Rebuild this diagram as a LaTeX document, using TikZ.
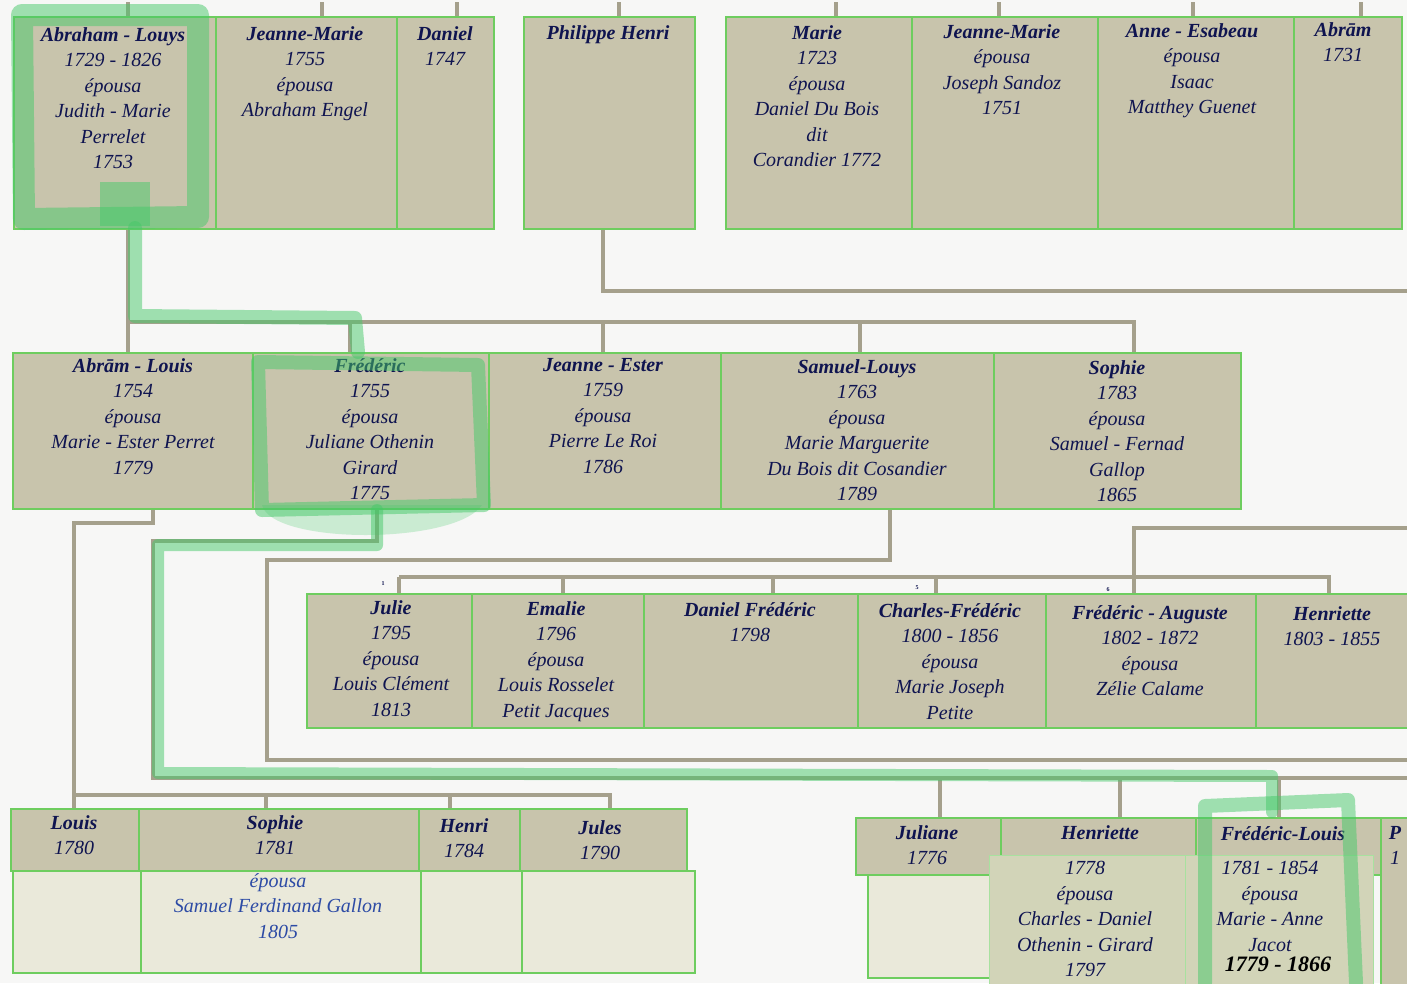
\documentclass[tikz,border=0pt]{standalone}
\usepackage{fontspec}
\setmainfont{Liberation Serif}
\definecolor{paper}{RGB}{247,247,246}
\definecolor{cellfill}{RGB}{200,196,172}
\definecolor{cellgreen}{RGB}{110,205,95}
\definecolor{conngray}{RGB}{165,160,140}
\definecolor{ink}{RGB}{15,20,80}
\definecolor{fadeink}{RGB}{45,75,165}
\definecolor{hlgreen}{RGB}{70,200,105}
\definecolor{lightfill}{RGB}{234,233,218}
\definecolor{overfill}{RGB}{210,212,184}
\tikzset{
  cellbox/.style={draw=cellgreen, line width=2.2pt, fill=cellfill, rectangle, inner sep=0pt},
  lightbox/.style={cellbox, fill=lightfill},
  overbox/.style={draw=cellgreen!60!white, line width=1.2pt, fill=overfill, rectangle, inner sep=0pt},
  conn/.style={draw=conngray, line width=3.5pt},
  hl/.style={draw=hlgreen, line width=14pt, opacity=0.5, line join=round, line cap=round},
  txt/.style={text=ink, font=\fontsize{20}{25.5}\selectfont\itshape, align=center, inner sep=0pt},
  fadetxt/.style={txt, text=fadeink},
  tiny/.style={text=ink, font=\fontsize{6}{6}\selectfont\bfseries, inner sep=0pt},
  hand/.style={text=black, font=\fontsize{22}{22}\selectfont\bfseries\itshape, inner sep=0pt},
}
\newcommand\cellnode[6][cellbox]{\node[#1, anchor=north west, minimum width={(#5-#3)*1pt}, minimum height={(#6-#4)*1pt}] (#2) at (#3,#4) {};}
\newcommand\ctext[5][txt]{\node[#1, anchor=north] (#2) at (#3,#4-7) {#5};}
\begin{document}
\begin{tikzpicture}[x=1pt,y=-1pt]
\useasboundingbox (0,0) rectangle (1407,983);
\fill[paper] (0,0) rectangle (1407,983);
\clip (0,0) rectangle (1407,983);

% ---------- connection points ----------
\coordinate (tA1) at (128,2);  \coordinate (tA2) at (322,2);  \coordinate (tA3) at (457,2);
\coordinate (tP1) at (619,2);  \coordinate (tB1) at (836,2);  \coordinate (tB2) at (999,2);
\coordinate (tB3) at (1193,2); \coordinate (tB4) at (1361,2);
\coordinate (ph1) at (603,291); \coordinate (ph2) at (1412,291);
\coordinate (ab1) at (128,322); \coordinate (ab2) at (1134,322);
\coordinate (s350) at (350,322); \coordinate (s603) at (603,322); \coordinate (s860) at (860,322);
\coordinate (al1) at (153,523); \coordinate (al2) at (74,523); \coordinate (al3) at (74,795); \coordinate (al4) at (610,795);
\coordinate (s266) at (266,795); \coordinate (s450) at (450,795);
\coordinate (fr1) at (377,541); \coordinate (fr2) at (153,541); \coordinate (fr3) at (153,778); \coordinate (fr4) at (1412,778);
\coordinate (s940) at (940,778); \coordinate (s1120) at (1120,778); \coordinate (s1279) at (1279,778);
\coordinate (sa1) at (890,560); \coordinate (sa2) at (267,560); \coordinate (sa3) at (267,760); \coordinate (sa4) at (1412,760);
\coordinate (or1) at (1412,528); \coordinate (or2) at (1134,528); \coordinate (or3) at (1134,577);
\coordinate (ch1) at (399,577); \coordinate (ch2) at (563,577); \coordinate (ch3) at (773,577);
\coordinate (ch4) at (936,577); \coordinate (ch6) at (1329,577);

% ---------- cells ----------
\cellnode{A1}{13}{16}{215}{228} \cellnode{A2}{215}{16}{396}{228} \cellnode{A3}{396}{16}{493}{228}
\cellnode{P1}{523}{16}{694}{228}
\cellnode{B1}{725}{16}{911}{228} \cellnode{B2}{911}{16}{1097}{228} \cellnode{B3}{1097}{16}{1293}{228} \cellnode{B4}{1293}{16}{1401}{228}
\cellnode{C1}{12}{352}{252}{508} \cellnode{C2}{252}{352}{488}{508} \cellnode{C3}{488}{352}{720}{508}
\cellnode{C4}{720}{352}{993}{508} \cellnode{C5}{993}{352}{1240}{508}
\cellnode{D1}{306}{593}{471}{727} \cellnode{D2}{471}{593}{643}{727} \cellnode{D3}{643}{593}{857}{727}
\cellnode{D4}{857}{593}{1045}{727} \cellnode{D5}{1045}{593}{1255}{727} \cellnode{D6}{1255}{593}{1414}{727}
\cellnode[lightbox]{E1l}{12}{870}{140}{972} \cellnode[lightbox]{E2l}{140}{870}{420}{972}
\cellnode[lightbox]{E3l}{420}{870}{521}{972} \cellnode[lightbox]{E4l}{521}{870}{694}{972}
\cellnode{E1}{10}{808}{138}{870} \cellnode{E2}{138}{808}{418}{870} \cellnode{E3}{418}{808}{519}{870} \cellnode{E4}{519}{808}{686}{870}
\cellnode[lightbox]{F1l}{867}{874}{1000}{977}
\cellnode{F1}{855}{817}{1000}{874} \cellnode{F2}{1000}{817}{1195}{874} \cellnode{F3}{1195}{817}{1380}{874}
\cellnode{F4}{1380}{817}{1414}{990}
\cellnode[overbox]{O1}{989}{855}{1185}{990} \cellnode[overbox]{O2}{1185}{855}{1373}{990}

% ---------- connectors ----------
\foreach \c/\n in {tA1/A1,tA2/A2,tA3/A3,tP1/P1,tB1/B1,tB2/B2,tB3/B3,tB4/B4}
  \draw[conn] (\c) -- (\n.north -| \c);
\draw[conn] (P1.south -| ph1) -- (ph1) -- (ph2);
\draw[conn] (A1.south -| ab1) -- (ab1) -- (ab2) -- (C5.north -| ab2);
\draw[conn] (ab1) -- (C1.north -| ab1);
\draw[conn] (s350) -- (C2.north -| s350);
\draw[conn] (s603) -- (C3.north -| s603);
\draw[conn] (s860) -- (C4.north -| s860);
\draw[conn] (C1.south -| al1) -- (al1) -- (al2) -- (al3) -- (al4) -- (E4.north -| al4);
\draw[conn] (al3) -- (E1.north -| al3);
\draw[conn] (s266) -- (E2.north -| s266);
\draw[conn] (s450) -- (E3.north -| s450);
\draw[conn] (C2.south -| fr1) -- (fr1) -- (fr2) -- (fr3) -- (fr4);
\draw[conn] (s940) -- (F1.north -| s940);
\draw[conn] (s1120) -- (F2.north -| s1120);
\draw[conn] (s1279) -- (F3.north -| s1279);
\draw[conn] (C4.south -| sa1) -- (sa1) -- (sa2) -- (sa3) -- (sa4);
\draw[conn] (or1) -- (or2) -- (or3) -- (D5.north -| or3);
\draw[conn] (ch1) -- (ch6) -- (D6.north -| ch6);
\draw[conn] (ch1) -- (D1.north -| ch1);
\draw[conn] (ch2) -- (D2.north -| ch2);
\draw[conn] (ch3) -- (D3.north -| ch3);
\draw[conn] (ch4) -- (D4.north -| ch4);

% ---------- texts row 1 ----------
\ctext{tx1}{113}{34}{{\bfseries Abraham - Louys}\\1729 - 1826\\épousa\\Judith - Marie\\Perrelet\\1753}
\ctext{tx2}{305}{33}{{\bfseries Jeanne-Marie}\\1755\\épousa\\Abraham Engel}
\ctext{tx3}{445}{33}{{\bfseries Daniel}\\1747}
\ctext{tx4}{608}{32}{{\bfseries Philippe Henri}}
\ctext{tx5}{817}{32}{{\bfseries Marie}\\1723\\épousa\\Daniel Du Bois\\dit\\Corandier 1772}
\ctext{tx6}{1002}{31}{{\bfseries Jeanne-Marie}\\épousa\\Joseph Sandoz\\1751}
\ctext{tx7}{1192}{30}{{\bfseries Anne - Esabeau}\\épousa\\Isaac\\Matthey Guenet}
\ctext{tx8}{1343}{29}{{\bfseries Abrām}\\1731}

% ---------- texts row 2 ----------
\ctext{tx9}{133}{365}{{\bfseries Abrām - Louis}\\1754\\épousa\\Marie - Ester Perret\\1779}
\ctext{tx10}{370}{365}{{\bfseries Frédéric}\\1755\\épousa\\Juliane Othenin\\Girard\\1775}
\ctext{tx11}{603}{365}{{\bfseries Jeanne - Ester}\\1759\\épousa\\Pierre Le Roi\\1786}
\ctext{tx12}{857}{366}{{\bfseries Samuel-Louys}\\1763\\épousa\\Marie Marguerite\\Du Bois dit Cosandier\\1789}
\ctext{tx13}{1117}{367}{{\bfseries Sophie}\\1783\\épousa\\Samuel - Fernad\\Gallop\\1865}

% ---------- texts row 3 ----------
\ctext{tx14}{391}{607}{{\bfseries Julie}\\1795\\épousa\\Louis Clément\\1813}
\ctext{tx15}{556}{608}{{\bfseries Emalie}\\1796\\épousa\\Louis Rosselet\\Petit Jacques}
\ctext{tx16}{750}{609}{{\bfseries Daniel Frédéric}\\1798}
\ctext{tx17}{950}{610}{{\bfseries Charles-Frédéric}\\1800 - 1856\\épousa\\Marie Joseph\\Petite}
\ctext{tx18}{1150}{612}{{\bfseries Frédéric - Auguste}\\1802 - 1872\\épousa\\Zélie Calame}
\ctext{tx19}{1332}{613}{{\bfseries Henriette}\\1803 - 1855}
\node[tiny] (n1) at (383,584) {1};
\node[tiny] (n5) at (917,588) {5};
\node[tiny] (n6) at (1108,590) {6};

% ---------- texts row 4 left ----------
\ctext{tx20}{74}{822}{{\bfseries Louis}\\1780}
\ctext{tx21}{275}{822}{{\bfseries Sophie}\\1781}
\ctext{tx22}{464}{825}{{\bfseries Henri}\\1784}
\ctext{tx23}{600}{827}{{\bfseries Jules}\\1790}
\ctext[fadetxt]{tx24}{278}{880}{épousa\\Samuel Ferdinand Gallon\\1805}

% ---------- texts row 4 right ----------
\ctext{tx25}{927}{832}{{\bfseries Juliane}\\1776}
\ctext{tx26}{1100}{832}{{\bfseries Henriette}}
\ctext{tx27}{1283}{833}{{\bfseries Frédéric-Louis}}
\ctext{tx28}{1395}{833}{{\bfseries P}\\1}
\ctext{tx29}{1085}{868}{1778\\épousa\\Charles - Daniel\\Othenin - Girard\\1797}
\ctext{tx30}{1270}{868}{1781 - 1854\\épousa\\Marie - Anne\\Jacot}
\node[hand] (hw) at (1278,964) {1779 - 1866};

% ---------- green highlighter ----------
\draw[hl, line width=22pt] (22,15) -- (198,15) -- (198,217) -- (24,219) -- cycle;
\fill[hlgreen, opacity=0.5] (100,182) rectangle (150,226);
\draw[hl] (135,228) -- (135,316) -- (355,318) -- (358,352);
\draw[hl] (258,362) -- (478,365) -- (484,505) -- (262,510) -- cycle;
\fill[hlgreen, opacity=0.25] (262,505) .. controls (272,545) and (455,545) .. (482,505) -- cycle;
\draw[hl, line width=12pt] (377,510) -- (377,545) -- (158,545) -- (158,773) -- (1272,776) -- (1272,812);
\draw[hl] (1205,983) -- (1205,806) -- (1348,800) -- (1356,983);
\end{tikzpicture}
\end{document}
